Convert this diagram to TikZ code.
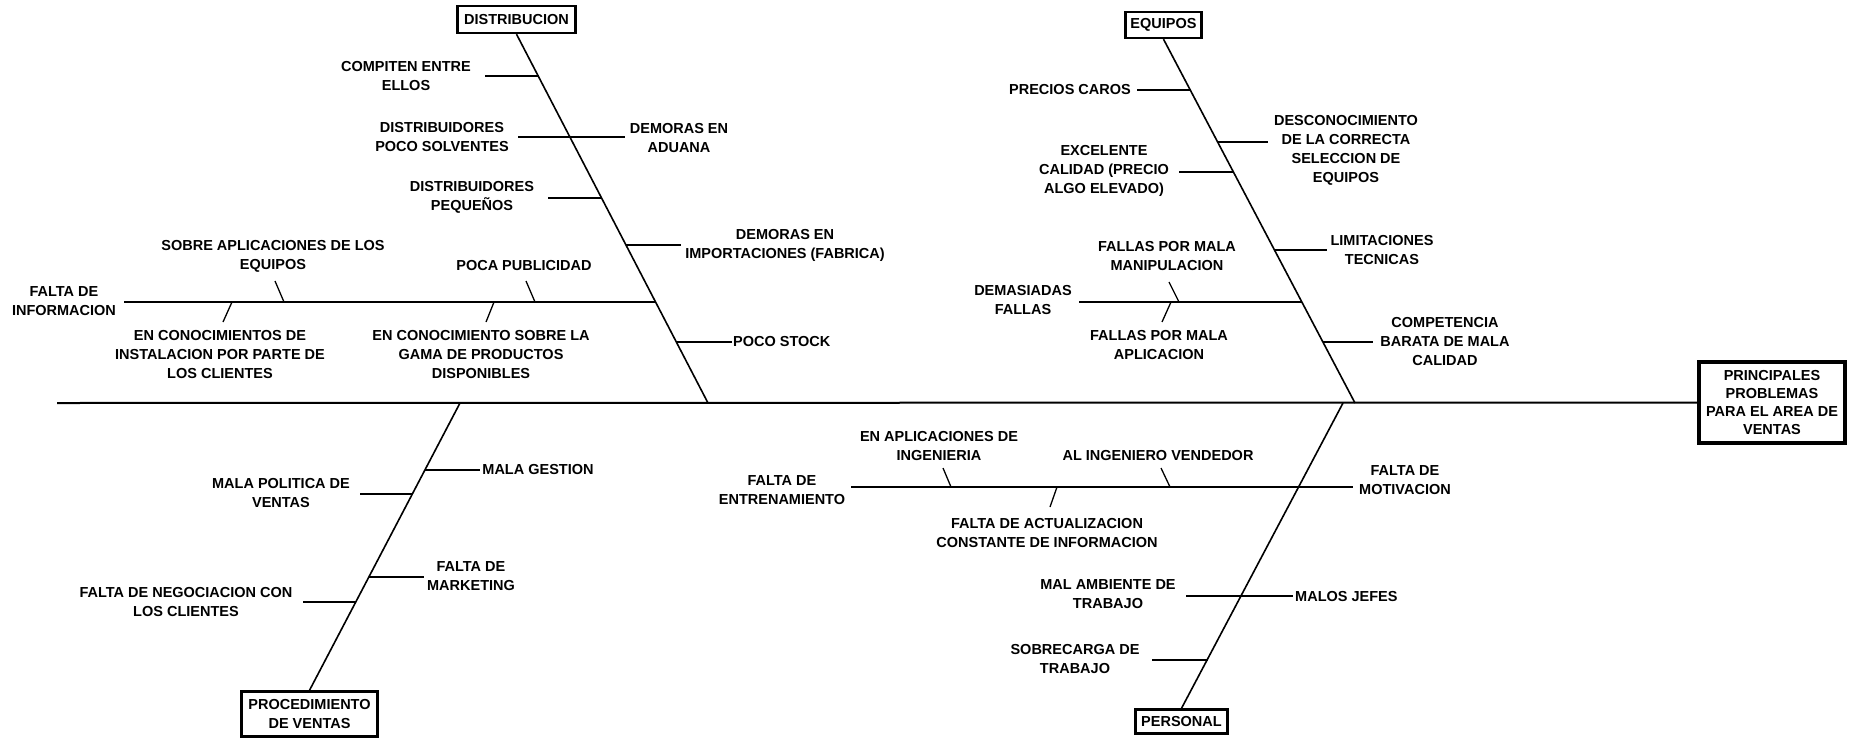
\documentclass[tikz,border=0pt]{standalone}
\usepackage{fontspec}
\setmainfont{Liberation Sans}
\begin{document}
\begin{tikzpicture}[x=1pt,y=-1pt,
  lbl/.style={font=\fontsize{14.5}{19}\selectfont\bfseries, align=center, inner sep=0pt},
  catbox/.style={lbl, draw, line width=2.4pt},
  headbox/.style={lbl, draw, line width=4.5pt, font=\fontsize{14.5}{18.3}\selectfont\bfseries},
  spine/.style={line width=2pt},
  bone/.style={line width=1.6pt},
  rib/.style={line width=1.5pt},
  twig/.style={line width=1.3pt}]
\useasboundingbox (0,0) rectangle (1854,739);

% ---------- head and spine ----------
\node[headbox, minimum width=146pt, minimum height=81pt] (head) at (1772,402.5)
  {PRINCIPALES\\PROBLEMAS\\PARA EL AREA DE\\VENTAS};
\coordinate (s0) at (57,403);
\draw[spine] (s0) -- (head.west);

% ---------- category boxes ----------
\node[catbox, minimum width=118pt, minimum height=27pt] (dist) at (516.5,19.5) {DISTRIBUCION};
\node[catbox, minimum width=76pt, minimum height=26pt] (equip) at (1163.5,25) {EQUIPOS};
\node[catbox, minimum width=136pt, minimum height=45pt] (proc) at (309.5,714) {PROCEDIMIENTO\\DE VENTAS};
\node[catbox, minimum width=92pt, minimum height=24pt] (pers) at (1181.5,721.5) {PERSONAL};

% ---------- main bones ----------
\coordinate (dA) at (708,403);
\coordinate (eA) at (1355,403);
\coordinate (pA) at (460,403);
\coordinate (qA) at (1343,403);
\draw[bone] (dist.south) -- (dA);
\draw[bone] (equip.south) -- (eA);
\draw[bone] (proc.north) -- (pA);
\draw[bone] (pers.north) -- (qA);

% ---------- DISTRIBUCION ----------
\node[lbl] (compiten) at (406,76) {COMPITEN ENTRE\\ELLOS};
\node[lbl] (solventes) at (442,137.5) {DISTRIBUIDORES\\POCO SOLVENTES};
\node[lbl] (aduana) at (679,138) {DEMORAS EN\\ADUANA};
\node[lbl] (pequenos) at (472,197.5) {DISTRIBUIDORES\\PEQUEÑOS};
\node[lbl] (importa) at (785,245) {DEMORAS EN\\IMPORTACIONES (FABRICA)};
\node[lbl, anchor=west] (stock) at (733,342) {POCO STOCK};
\node[lbl] (falinfo) at (64,301) {FALTA DE\\INFORMACION};
\node[lbl] (sobreapl) at (273,256.5) {SOBRE APLICACIONES DE LOS\\EQUIPOS};
\node[lbl] (publi) at (524,266) {POCA PUBLICIDAD};
\node[lbl] (instal) at (220,355) {EN CONOCIMIENTOS DE\\INSTALACION POR PARTE DE\\LOS CLIENTES};
\node[lbl] (gama) at (481,355) {EN CONOCIMIENTO SOBRE LA\\GAMA DE PRODUCTOS\\DISPONIBLES};

\coordinate (d1) at (538.8,76);  \coordinate (d1e) at (485,76);
\coordinate (d2a) at (518,137);  \coordinate (d2b) at (625,137);
\coordinate (d3) at (601.9,198); \coordinate (d3e) at (548,198);
\coordinate (d4) at (626.2,245); \coordinate (d4e) at (681,245);
\coordinate (d5) at (655.7,302); \coordinate (d5e) at (124,302);
\coordinate (d6) at (676.4,342); \coordinate (d6e) at (732,342);
\draw[rib] (d1e) -- (d1);
\draw[rib] (d2a) -- (d2b);
\draw[rib] (d3e) -- (d3);
\draw[rib] (d4) -- (d4e);
\draw[rib] (d5e) -- (d5);
\draw[rib] (d6) -- (d6e);

\coordinate (f1a) at (275,281); \coordinate (f1b) at (284,302);
\coordinate (f2a) at (526,281); \coordinate (f2b) at (535,302);
\coordinate (f3a) at (232,302); \coordinate (f3b) at (223,322);
\coordinate (f4a) at (494,302); \coordinate (f4b) at (486,322);
\draw[twig] (f1a) -- (f1b);
\draw[twig] (f2a) -- (f2b);
\draw[twig] (f3a) -- (f3b);
\draw[twig] (f4a) -- (f4b);

% ---------- EQUIPOS ----------
\node[lbl] (precios) at (1070,90) {PRECIOS CAROS};
\node[lbl] (descon) at (1346,150) {DESCONOCIMIENTO\\DE LA CORRECTA\\SELECCION DE\\EQUIPOS};
\node[lbl] (excel) at (1104,171) {EXCELENTE\\CALIDAD (PRECIO\\ALGO ELEVADO)};
\node[lbl] (limit) at (1382,250.5) {LIMITACIONES\\TECNICAS};
\node[lbl] (demfallas) at (1023,300.5) {DEMASIADAS\\FALLAS};
\node[lbl] (manip) at (1167,256.5) {FALLAS POR MALA\\MANIPULACION};
\node[lbl] (aplic) at (1159,345.5) {FALLAS POR MALA\\APLICACION};
\node[lbl] (compet) at (1445,342) {COMPETENCIA\\BARATA DE MALA\\CALIDAD};

\coordinate (e1) at (1190.8,90);  \coordinate (e1e) at (1137,90);
\coordinate (e2) at (1218.1,142); \coordinate (e2e) at (1268,142);
\coordinate (e3) at (1233.8,172); \coordinate (e3e) at (1179,172);
\coordinate (e4) at (1274.7,250); \coordinate (e4e) at (1327,250);
\coordinate (e5) at (1302,302);   \coordinate (e5e) at (1079,302);
\coordinate (e6) at (1323,342);   \coordinate (e6e) at (1373,342);
\draw[rib] (e1e) -- (e1);
\draw[rib] (e2) -- (e2e);
\draw[rib] (e3e) -- (e3);
\draw[rib] (e4) -- (e4e);
\draw[rib] (e5e) -- (e5);
\draw[rib] (e6) -- (e6e);

\coordinate (g1a) at (1169,282); \coordinate (g1b) at (1179,302);
\coordinate (g2a) at (1171,302); \coordinate (g2b) at (1162,322);
\draw[twig] (g1a) -- (g1b);
\draw[twig] (g2a) -- (g2b);

% ---------- PROCEDIMIENTO DE VENTAS ----------
\node[lbl] (gestion) at (538,470) {MALA GESTION};
\node[lbl] (politica) at (281,493.5) {MALA POLITICA DE\\VENTAS};
\node[lbl] (marketing) at (471,576.5) {FALTA DE\\MARKETING};
\node[lbl] (negocia) at (186,601.5) {FALTA DE NEGOCIACION CON\\LOS CLIENTES};

\coordinate (p1) at (425,470);   \coordinate (p1e) at (480,470);
\coordinate (p2) at (412.5,494); \coordinate (p2e) at (360,494);
\coordinate (p3) at (369.2,577); \coordinate (p3e) at (424,577);
\coordinate (p4) at (356.1,602); \coordinate (p4e) at (303,602);
\draw[rib] (p1) -- (p1e);
\draw[rib] (p2e) -- (p2);
\draw[rib] (p3) -- (p3e);
\draw[rib] (p4e) -- (p4);

% ---------- PERSONAL ----------
\node[lbl] (entren) at (782,490) {FALTA DE\\ENTRENAMIENTO};
\node[lbl] (ingen) at (939,446) {EN APLICACIONES DE\\INGENIERIA};
\node[lbl] (vendedor) at (1158,456) {AL INGENIERO VENDEDOR};
\node[lbl] (actual) at (1047,532.5) {FALTA DE ACTUALIZACION\\CONSTANTE DE INFORMACION};
\node[lbl] (motiv) at (1405,480) {FALTA DE\\MOTIVACION};
\node[lbl] (ambiente) at (1108,594.5) {MAL AMBIENTE DE\\TRABAJO};
\node[lbl, anchor=west] (jefes) at (1295,596) {MALOS JEFES};
\node[lbl] (sobrecarga) at (1075,659) {SOBRECARGA DE\\TRABAJO};

\coordinate (q1a) at (851,487);  \coordinate (q1b) at (1353,487);
\coordinate (q2a) at (1186,596); \coordinate (q2b) at (1293,596);
\coordinate (q3) at (1207.6,660); \coordinate (q3e) at (1152,660);
\draw[rib] (q1a) -- (q1b);
\draw[rib] (q2a) -- (q2b);
\draw[rib] (q3e) -- (q3);

\coordinate (h1a) at (943,468);  \coordinate (h1b) at (951,487);
\coordinate (h2a) at (1161,468); \coordinate (h2b) at (1170,487);
\coordinate (h3a) at (1057,487); \coordinate (h3b) at (1050,507);
\draw[twig] (h1a) -- (h1b);
\draw[twig] (h2a) -- (h2b);
\draw[twig] (h3a) -- (h3b);
\end{tikzpicture}
\end{document}
